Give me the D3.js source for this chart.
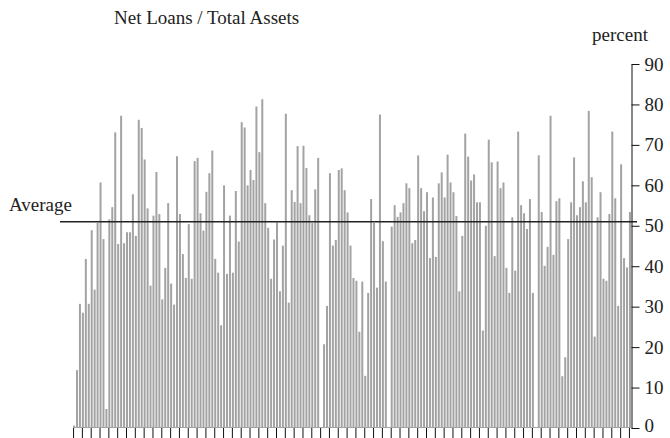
<!DOCTYPE html>
<html><head><meta charset="utf-8">
<script src="https://cdn.jsdelivr.net/npm/d3@7/dist/d3.min.js"></script>
<style>body{margin:0;background:#fff}svg{display:block}text{font-family:"Liberation Serif","Times New Roman",serif}</style>
</head><body>
<script>
const title = "Net Loans / Total Assets";
const unitLabel = "percent";
const avgLabel = "Average";
const averageValue = 51.0;
const values = [0.6, 14.3, 30.7, 28.5, 41.8, 30.7, 48.9, 34.2, 50.7, 60.7, 46.7, 4.7, 51.6, 54.6, 73.1, 45.5, 77.2, 45.7, 48.4, 48.4, 57.8, 47.5, 76.2, 74.2, 66.4, 54.3, 35.2, 52.5, 63.3, 52.9, 31.8, 39.6, 55.6, 35.7, 30.5, 67.2, 52.9, 43.0, 37.1, 50.4, 36.9, 66.0, 66.8, 53.1, 48.8, 58.4, 63.0, 68.6, 41.8, 38.4, 25.4, 60.0, 38.1, 52.5, 38.4, 58.6, 46.1, 75.6, 74.3, 60.0, 63.8, 61.3, 79.5, 68.2, 81.3, 55.6, 49.5, 36.9, 46.6, 50.8, 33.8, 45.1, 77.7, 31.0, 58.8, 55.9, 69.7, 55.6, 69.8, 64.3, 52.6, 50.7, 59.0, 66.8, 0, 20.7, 30.2, 63.0, 45.1, 46.5, 63.8, 64.2, 58.8, 53.3, 45.1, 37.1, 36.4, 23.8, 36.2, 12.9, 33.4, 56.6, 50.7, 34.7, 77.5, 46.2, 36.2, 0, 49.8, 55.1, 52.2, 53.3, 55.6, 60.5, 59.3, 45.7, 46.5, 67.4, 59.3, 53.6, 58.3, 42.0, 57.0, 42.3, 60.5, 63.2, 57.0, 67.6, 60.7, 58.3, 52.4, 33.8, 47.5, 72.8, 67.1, 61.2, 62.7, 55.8, 55.8, 24.1, 50.0, 71.3, 65.7, 42.5, 65.9, 59.3, 60.7, 39.6, 33.4, 52.1, 38.9, 73.3, 55.1, 53.1, 49.2, 56.6, 33.4, 0, 67.4, 53.4, 40.1, 44.8, 77.2, 42.8, 56.1, 56.8, 12.8, 17.5, 46.7, 55.8, 66.9, 52.6, 54.6, 61.0, 55.8, 78.4, 62.0, 22.6, 52.1, 58.3, 36.9, 36.4, 52.9, 73.3, 56.8, 30.2, 65.2, 42.0, 39.7, 53.4];
const categories = values.map((d, i) => "Bank " + (i + 1));
const yTicks = [0, 10, 20, 30, 40, 50, 60, 70, 80, 90];

const W = 670, H = 438;
const mLeft = 73, mRight = 631, mTop = 64, mBottom = 428;
const svg = d3.select("body").append("svg").attr("width", W).attr("height", H);

const x = d3.scaleBand().domain(categories).range([mLeft, mRight]).paddingInner(0.32).paddingOuter(0.02);
const y = d3.scaleLinear().domain([0, 90]).range([mBottom, mTop]);

// baseline
svg.append("line").attr("x1", mLeft).attr("x2", mRight).attr("y1", mBottom - 0.5).attr("y2", mBottom - 0.5)
  .attr("stroke", "#a3a3a3").attr("stroke-width", 1);

svg.append("g").selectAll("rect").data(values).join("rect")
  .attr("x", (d, i) => x(categories[i]))
  .attr("width", x.bandwidth())
  .attr("y", d => y(d))
  .attr("height", d => y(0) - y(d))
  .attr("fill", "#a3a3a3");

// x ticks every 3 categories
const tickCats = categories.filter((d, i) => i % 3 === 0);
const xAxis = d3.axisBottom(x).tickValues(tickCats).tickSize(10).tickSizeOuter(0).tickFormat("");
const gx = svg.append("g").attr("transform", `translate(0,${mBottom})`).call(xAxis);
gx.select(".domain").remove();
gx.selectAll(".tick").attr("transform", d => `translate(${x(d) + 0.5},0)`);
gx.selectAll(".tick line").attr("stroke", "#111");

// average line
svg.append("line").attr("x1", 60).attr("x2", 637).attr("y1", y(averageValue)).attr("y2", y(averageValue))
  .attr("stroke", "#222").attr("stroke-width", 1.4);

// right axis
const yAxis = d3.axisRight(y).tickValues(yTicks).tickSize(8).tickSizeOuter(0).tickPadding(5);
const gy = svg.append("g").attr("transform", `translate(${mRight + 0.5},0)`).call(yAxis);
gy.select(".domain").attr("stroke", "#111");
gy.selectAll(".tick line").attr("stroke", "#111");
gy.selectAll(".tick text").attr("font-size", 19).attr("fill", "#222").attr("font-family", "Liberation Serif")
  .attr("dy", d => d === 0 ? "0.2em" : "0.32em");

svg.append("text").attr("x", 114).attr("y", 24).attr("font-size", 19).attr("fill", "#222").text(title);
svg.append("text").attr("x", 592).attr("y", 41).attr("font-size", 19).attr("fill", "#222").text(unitLabel);
svg.append("text").attr("x", 9).attr("y", 211).attr("font-size", 19).attr("fill", "#222").text(avgLabel);
</script>
</body></html>
